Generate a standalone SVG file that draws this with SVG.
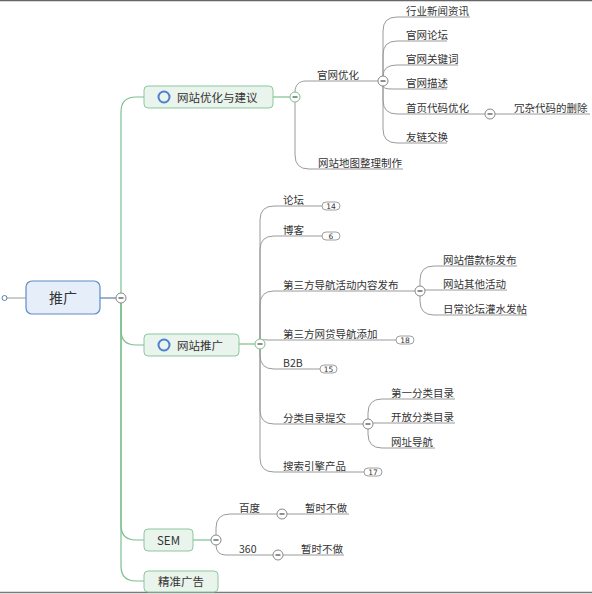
<svg xmlns="http://www.w3.org/2000/svg" width="592" height="594" viewBox="0 0 592 594">
<style>
text{font-family:"Noto Sans CJK SC","Noto Sans",sans-serif;fill:#333}
.t{font-size:10.5px}
.l1{font-size:11.5px}
.c{fill:none;stroke:#9a9a9a;stroke-width:1}
.g{fill:none;stroke:#7dbf8e;stroke-width:1.2}
.box{fill:#e9f4ec;stroke:#8cc79e;stroke-width:1}
.ic{fill:none;stroke:#4d7fd1;stroke-width:2}
.col{fill:#fff;stroke:#888;stroke-width:1}
.colg{fill:#fff;stroke:#7dbf8e;stroke-width:1}
.minus{stroke:#444;stroke-width:1.2}
.badge{fill:#fff;stroke:#888;stroke-width:0.8}
.bt{font-size:7.5px;font-family:"DejaVu Sans",sans-serif}
</style>
<rect width="592" height="594" fill="#fff"/>
<line x1="0" y1="0.5" x2="592" y2="0.5" stroke="#666" stroke-width="1.5"/>
<line x1="0" y1="592.5" x2="592" y2="592.5" stroke="#7a7a7a" stroke-width="1.5"/>
<g id="connectors">
<path class="c" d="M7,298 H26" stroke="#5b7fa8"/>
<path d="M100,298 H116" fill="none" stroke="#5b7fa8" stroke-width="1.2"/>
<path class="g" d="M121,293 V112 Q121,97 136,97 H144"/>
<path class="g" d="M121,303 V330 Q121,345 136,345 H144"/>
<path class="g" d="M121,303 V525 Q121,540 136,540 H144"/>
<path class="g" d="M121,303 V566 Q121,581 136,581 H144"/>
<path class="g" d="M273,97 H290"/>
<path class="g" d="M239,344 H255"/>
<path class="g" d="M193,540 H211"/>
<path class="c" d="M295,92 C295,85 299,81 306,81 H378"/>
<path class="c" d="M295,102 V155 Q295,169 309,169 H403"/>
<path class="c" d="M383,76 V31 Q383,17 397,17 H470"/>
<path class="c" d="M383,76 V55 Q383,41 397,41 H447"/>
<path class="c" d="M383,76 Q383,65 397,65 H458"/>
<path class="c" d="M383,86 Q383,89 392,89 H447"/>
<path class="c" d="M383,86 V100 Q383,114 397,114 H485"/>
<path class="c" d="M383,86 V129 Q383,143 397,143 H447"/>
<path class="c" d="M495,114 H590"/>
<path class="c" d="M260,339 V220 Q260,206 274,206 H322"/>
<path class="c" d="M260,339 V250 Q260,236 274,236 H322"/>
<path class="c" d="M260,339 V305 Q260,291 274,291 H415"/>
<path class="c" d="M260,339 Q261,340 268,340 H396"/>
<path class="c" d="M260,349 V355 Q260,369 274,369 H320"/>
<path class="c" d="M260,349 V410 Q260,424 274,424 H363"/>
<path class="c" d="M260,349 V458 Q260,472 274,472 H364"/>
<path class="c" d="M420,286 V280 Q420,266 434,266 H517"/>
<path class="c" d="M425,290 H507"/>
<path class="c" d="M420,296 V301 Q420,315 434,315 H527"/>
<path class="c" d="M368,419 V413 Q368,399 382,399 H455"/>
<path class="c" d="M373,423 H455"/>
<path class="c" d="M368,429 V434 Q368,448 382,448 H435"/>
<path class="c" d="M216,535 V528 Q216,514 230,514 H277"/>
<path class="c" d="M216,545 Q216,555 226,555 H273"/>
<path class="c" d="M287,514 H349"/>
<path class="c" d="M283,555 H344"/>
</g>
<g id="root">
<circle cx="4.5" cy="298" r="2.5" fill="#fff" stroke="#5b7fa8"/>
<rect x="26" y="281" width="74" height="33" rx="6" fill="#e6eef9" stroke="#5d8cc8" stroke-width="1.2"/>
<text x="63" y="303" font-size="14" text-anchor="middle">推广</text>
<circle class="col" cx="121" cy="298" r="5"/><line class="minus" x1="118.5" y1="298" x2="123.5" y2="298"/>
</g>
<g id="n-youhua">
<rect class="box" x="144" y="86" width="129" height="22" rx="4"/>
<circle class="ic" cx="164" cy="97" r="5.5"/>
<text class="l1" x="177" y="101.5">网站优化与建议</text>
<circle class="colg" cx="295" cy="97" r="5"/><line class="minus" x1="292.5" y1="97" x2="297.5" y2="97"/>
</g>
<g id="n-guanwang">
<text class="t" x="317" y="79">官网优化</text>
<circle class="col" cx="383" cy="81" r="5"/><line class="minus" x1="380.5" y1="81" x2="385.5" y2="81"/>
</g>
<g id="n-guanwang-kids">
<text class="t" x="406" y="15">行业新闻资讯</text>
<text class="t" x="406" y="39">官网论坛</text>
<text class="t" x="406" y="63">官网关键词</text>
<text class="t" x="406" y="87">官网描述</text>
<text class="t" x="406" y="112">首页代码优化</text>
<circle class="col" cx="490" cy="114" r="5"/><line class="minus" x1="487.5" y1="114" x2="492.5" y2="114"/>
<text class="t" x="514" y="112">冗杂代码的删除</text>
<text class="t" x="406" y="141">友链交换</text>
</g>
<g id="n-ditu"><text class="t" x="318" y="167">网站地图整理制作</text></g>
<g id="n-tuiguang">
<rect class="box" x="144" y="334" width="95" height="22" rx="4"/>
<circle class="ic" cx="164" cy="345" r="5.5"/>
<text class="l1" x="177" y="349.5">网站推广</text>
<circle class="colg" cx="260" cy="344" r="5"/><line class="minus" x1="257.5" y1="344" x2="262.5" y2="344"/>
</g>
<g id="n-tuiguang-kids">
<text class="t" x="283" y="204">论坛</text>
<rect class="badge" x="322" y="202" width="18" height="8" rx="4"/><text class="bt" x="331" y="208.7" text-anchor="middle">14</text>
<text class="t" x="283" y="234">博客</text>
<rect class="badge" x="322" y="232" width="18" height="8" rx="4"/><text class="bt" x="331" y="238.7" text-anchor="middle">6</text>
<text class="t" x="283" y="289">第三方导航活动内容发布</text>
<circle class="col" cx="420" cy="291" r="5"/><line class="minus" x1="417.5" y1="291" x2="422.5" y2="291"/>
<text class="t" x="443" y="264">网站借款标发布</text>
<text class="t" x="443" y="288">网站其他活动</text>
<text class="t" x="443" y="313">日常论坛灌水发帖</text>
<text class="t" x="283" y="338">第三方网贷导航添加</text>
<rect class="badge" x="396" y="336" width="18" height="8" rx="4"/><text class="bt" x="405" y="342.7" text-anchor="middle">18</text>
<text class="t" x="283" y="367">B2B</text>
<rect class="badge" x="320" y="365" width="17" height="8" rx="4"/><text class="bt" x="328.5" y="371.7" text-anchor="middle">15</text>
<text class="t" x="283" y="422">分类目录提交</text>
<circle class="col" cx="368" cy="424" r="5"/><line class="minus" x1="365.5" y1="424" x2="370.5" y2="424"/>
<text class="t" x="391" y="397">第一分类目录</text>
<text class="t" x="391" y="421">开放分类目录</text>
<text class="t" x="391" y="446">网址导航</text>
<text class="t" x="283" y="470">搜索引擎产品</text>
<rect class="badge" x="364" y="468" width="18" height="8" rx="4"/><text class="bt" x="373" y="474.7" text-anchor="middle">17</text>
</g>
<g id="n-sem">
<rect class="box" x="144" y="529" width="49" height="22" rx="4"/>
<text class="l1" x="168.5" y="544.5" text-anchor="middle">SEM</text>
<circle class="col" cx="216" cy="540" r="5"/><line class="minus" x1="213.5" y1="540" x2="218.5" y2="540"/>
<text class="t" x="239" y="512">百度</text>
<circle class="col" cx="282" cy="514" r="5"/><line class="minus" x1="279.5" y1="514" x2="284.5" y2="514"/>
<text class="t" x="305" y="512">暂时不做</text>
<text class="t" x="239" y="553">360</text>
<circle class="col" cx="278" cy="555" r="5"/><line class="minus" x1="275.5" y1="555" x2="280.5" y2="555"/>
<text class="t" x="301" y="553">暂时不做</text>
</g>
<g id="n-jingzhun">
<rect class="box" x="144" y="571" width="74" height="21" rx="4"/>
<text class="l1" x="181" y="586" text-anchor="middle">精准广告</text>
</g>
</svg>
